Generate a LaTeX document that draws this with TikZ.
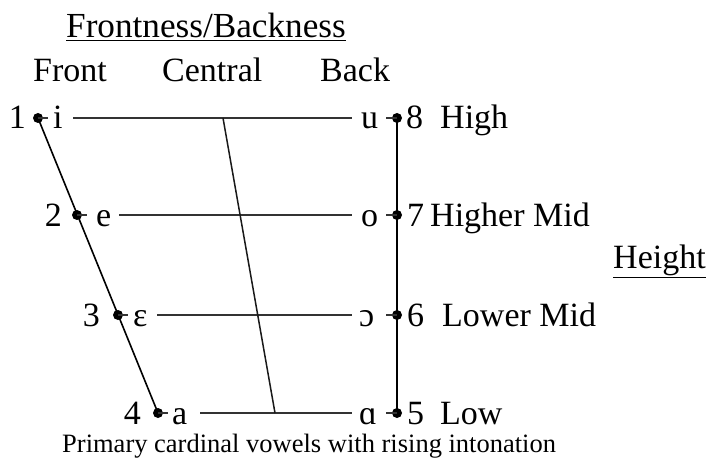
\documentclass[tikz,border=0pt]{standalone}
\usepackage{fontspec}
\setmainfont{Liberation Serif}
\begin{document}
\begin{tikzpicture}[x=1pt,y=-1pt,
  dot/.style={circle,fill=black,inner sep=0pt,minimum size=10pt},
  lbl/.style={inner sep=0pt,anchor=base west,font=\fontsize{34}{40}\selectfont},
  lble/.style={inner sep=0pt,anchor=base east,font=\fontsize{34}{40}\selectfont},
  titletext/.style={inner sep=0pt,anchor=base west,font=\fontsize{35.2}{40}\selectfont},
  captext/.style={inner sep=0pt,anchor=base west,font=\fontsize{26.5}{30}\selectfont},
  mainline/.style={line width=1.6pt,black},
  hline/.style={line width=1.4pt,black!80},
  cline/.style={line width=1.5pt,black!90},
  tickline/.style={line width=1.2pt,black!80}]
\useasboundingbox (0,0) rectangle (711,462);
% headings
\node[titletext] (title) at (66,38) {\underline{Frontness/Backness}};
\node[lbl] (front) at (33,82) {Front};
\node[lbl] (central) at (162,82) {Central};
\node[lbl] (back) at (320,82) {Back};
\node[lbl] (height) at (613,268) {\underline{Height}};
\node[captext] (caption) at (62,452) {Primary cardinal vowels with rising intonation};
% dots
\node[dot] (d1) at (38,118) {};
\node[dot] (d2) at (77,215) {};
\node[dot] (d3) at (118,315) {};
\node[dot] (d4) at (158,413) {};
\node[dot] (d8) at (397,118) {};
\node[dot] (d7) at (397,215) {};
\node[dot] (d6) at (397,315) {};
\node[dot] (d5) at (397,413) {};
% left labels
\node[lble] (n1) at (26,129) {1};
\node[lbl] (v1) at (53,129) {i};
\node[lble] (n2) at (62,226) {2};
\node[lbl] (v2) at (96,226) {e};
\node[lble] (n3) at (100,326) {3};
\node[lbl] (v3) at (133,326) {ɛ};
\node[lble] (n4) at (141,424) {4};
\node[lbl] (v4) at (172,424) {a};
% right labels
\node[lbl] (v8) at (361,129) {u};
\node[lbl] (n8) at (406,129) {8};
\node[lbl] (t8) at (440,129) {High};
\node[lbl] (v7) at (361,226) {o};
\node[lbl] (n7) at (407,226) {7};
\node[lbl] (t7) at (430,226) {Higher Mid};
\node[lbl] (v6) at (359,326) {ɔ};
\node[lbl] (n6) at (407,326) {6};
\node[lbl] (t6) at (442,326) {Lower Mid};
\node[lbl] (v5) at (359,424) {ɑ};
\node[lbl] (n5) at (407,424) {5};
\node[lbl] (t5) at (440,424) {Low};
% horizontal lines
\coordinate (h1a) at (73,118); \coordinate (h1b) at (352,118);
\coordinate (h2a) at (119,215); \coordinate (h2b) at (352,215);
\coordinate (h3a) at (157,315); \coordinate (h3b) at (352,315);
\coordinate (h4a) at (200,413); \coordinate (h4b) at (352,413);
\draw[hline] (h1a) -- (h1b);
\draw[hline] (h2a) -- (h2b);
\draw[hline] (h3a) -- (h3b);
\draw[hline] (h4a) -- (h4b);
% central line
\coordinate (ctop) at (223,118); \coordinate (cbot) at (275,413);
\draw[cline] (ctop) -- (cbot);
% front and back lines
\draw[mainline] (d1.center) -- (d4.center);
\draw[mainline] (d8.center) -- (d5.center);
% ticks between dots and vowels
\coordinate (k1) at (48,118); \coordinate (k2) at (87,215);
\coordinate (k3) at (128,315); \coordinate (k4) at (168,413);
\coordinate (k8) at (386,118); \coordinate (k7) at (386,215);
\coordinate (k6) at (386,315); \coordinate (k5) at (386,413);
\draw[tickline] (d1.center) -- (k1);
\draw[tickline] (d2.center) -- (k2);
\draw[tickline] (d3.center) -- (k3);
\draw[tickline] (d4.center) -- (k4);
\draw[tickline] (d8.center) -- (k8);
\draw[tickline] (d7.center) -- (k7);
\draw[tickline] (d6.center) -- (k6);
\draw[tickline] (d5.center) -- (k5);
\end{tikzpicture}
\end{document}
